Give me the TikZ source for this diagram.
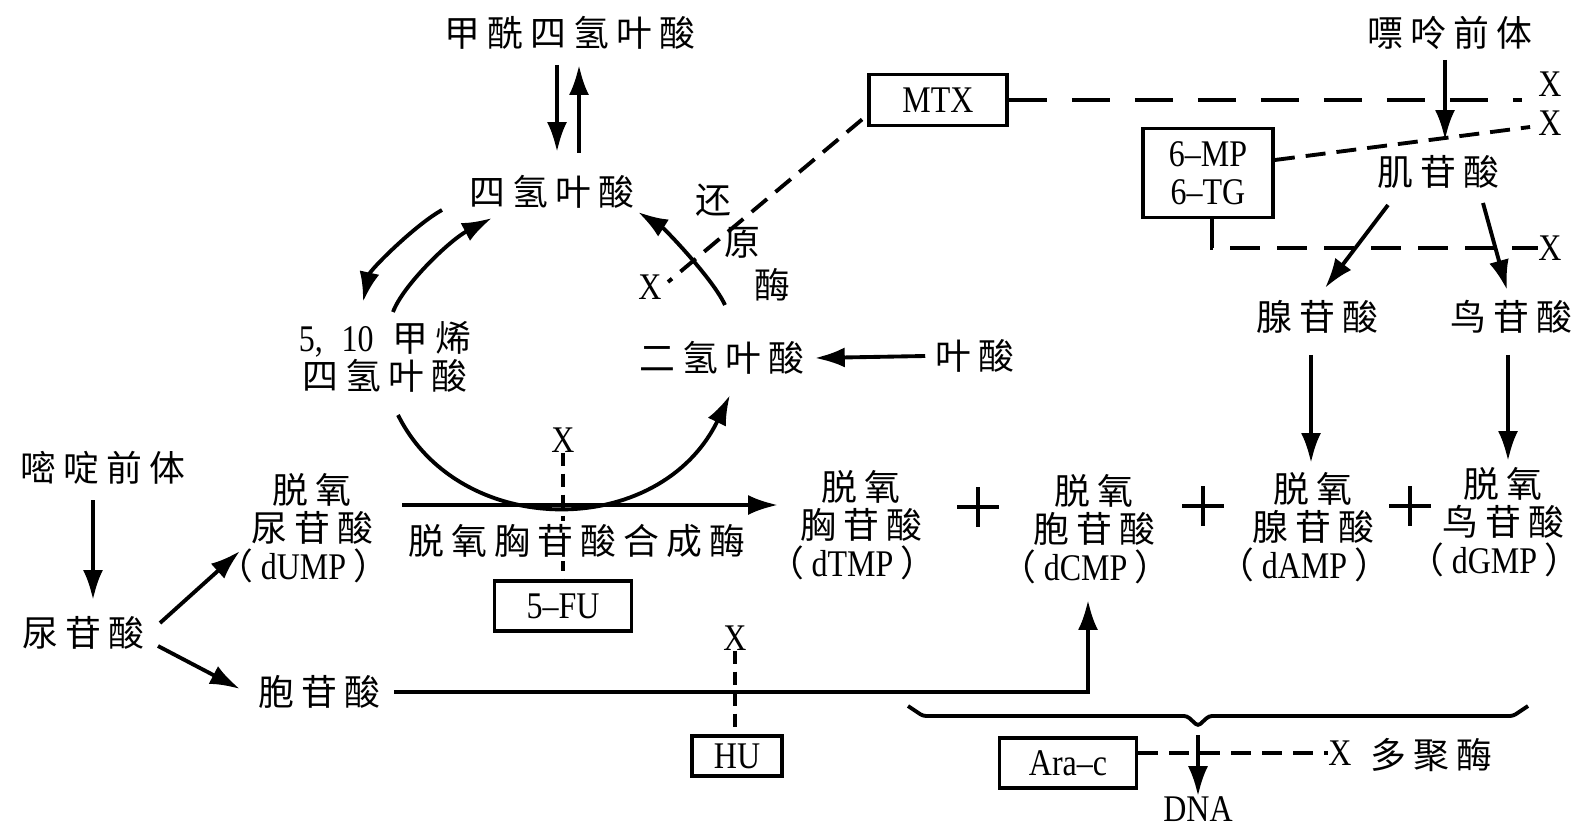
\documentclass[tikz,border=0pt]{standalone}
\usepackage{fontspec}
\setmainfont{Liberation Serif}[FakeStretch=0.85,Scale=1.05]
\newfontfamily\cjk{Noto Sans CJK SC}[LetterSpace=20]
\newfontfamily\cjkp{Noto Sans CJK SC}
\usetikzlibrary{arrows.meta,calc}
\newcommand{\zhs}[1]{{\cjk #1}}
\newcommand{\abbr}[1]{\hspace{-0.45em}{\cjkp （}\hspace{0.2em}#1\hspace{0.2em}{\cjkp ）}\hspace{-0.45em}}
\tikzset{
  every node/.style={font=\fontsize{20.4pt}{21.8pt}\selectfont, inner sep=0pt, align=center},
  flow/.style={line width=2.2pt},
  arr/.style={line width=2.2pt, -{Latex[length=0.6cm,width=0.4cm]}},
  drug/.style={draw, line width=2.2pt, minimum height=1cm},
  blocklong/.style={line width=2.2pt, dash pattern=on 0.76cm off 0.5cm},
  blockmid/.style={line width=2.2pt, dash pattern=on 0.6cm off 0.34cm},
  block/.style={line width=2.2pt, dash pattern=on 0.4cm off 0.22cm},
  blockshort/.style={line width=2.2pt, dash pattern=on 0.26cm off 0.16cm}
}

\begin{document}
\begin{tikzpicture}[x=0.02cm, y=-0.02cm]
\useasboundingbox[fill=white] (0,0) rectangle (1585,827);

% folate cycle
\node (fthf) at (570,33) {\zhs{甲酰四氢叶酸}};
\node (thf) at (552,192) {\zhs{四氢叶酸}};
\node (mthf) at (385,357) {5,\enspace10\enspace\zhs{甲烯}\\\zhs{四氢叶酸}};
\node (dhf) at (722,358) {\zhs{二氢叶酸}};
\node (fa) at (975,356) {\zhs{叶酸}};
\foreach \ch/\x/\y [count=\i] in {还/713/200, 原/742/243, 酶/772/285}
  \node (red\i) at (\x,\y) {\zhs{\ch}};
\node (xdhfr) at (650,287) {X};
\node[drug, minimum width=2.76cm, minimum height=1.02cm] (mtx) at (938,100) {MTX};
\node (xmtx) at (1550,84) {X};
\coordinate (mtxend) at (1522,100);

\draw[arr] ($(fthf)+(-13,32)$) -- ($(thf)+(5,-40)$);
\draw[arr] ($(thf)+(27,-39)$) -- ($(fthf)+(9,32)$);
\draw[arr] ($(thf)+(-110,18)$) .. controls +(-27,15) and +(7,-32) .. ($(mthf)+(-22,-55)$);
\draw[arr] ($(mthf)+(8,-45)$) .. controls +(10,-27) and +(-42,22) .. ($(thf)+(-60,26)$);
\draw[arr] ($(dhf)+(3,-53)$) .. controls +(-12,-26) and +(27,17) .. ($(thf)+(86,20)$);
\draw[arr] ($(fa.west)+(-10,0)$) -- ($(dhf.east)+(10,0)$);
\draw[arr] ($(mthf)+(13,58)$) .. controls +(62,125) and +(-70,145) .. ($(dhf)+(8,37)$);
\draw[blocklong] (mtx.east) -- (mtxend);
\draw[block] ($(mtx.south west)+(-5,-8)$) -- ($(xdhfr)+(18,-5)$);

% purine branch
\node (purpre) at (1450,33) {\zhs{嘌呤前体}};
\node (imp) at (1438,172) {\zhs{肌苷酸}};
\node[drug, minimum width=2.6cm, minimum height=1.78cm] (mp) at (1208,173) {6--MP\\6--TG};
\node (xmp1) at (1550,123) {X};
\node (xmp2) at (1550,248) {X};
\node (amp) at (1317,317) {\zhs{腺苷酸}};
\node (gmp) at (1511,317) {\zhs{鸟苷酸}};

\draw[arr] ($(purpre)+(-5,27)$) -- ($(imp)+(7,-32)$);
\draw[block] ($(mp.east)+(0,-13)$) -- ($(xmp1.west)+(-8,4)$);
\draw[blockmid] ($(mp.south)+(4,0)$) |- (xmp2.west);
\draw[arr] ($(imp)+(-50,33)$) -- ($(amp)+(8,-29)$);
\draw[arr] ($(imp)+(45,31)$) -- ($(gmp)+(-4,-27)$);

% pyrimidine branch
\node (pyrpre) at (103,468) {\zhs{嘧啶前体}};
\node (ump) at (83,633) {\zhs{尿苷酸}};
\node (dump) at (312,528) {\zhs{脱氧}\\\zhs{尿苷酸}\\\abbr{dUMP}};
\node (cmp) at (319,692) {\zhs{胞苷酸}};
\node (xts) at (563,440) {X};
\node[drug, minimum width=2.74cm] (fu) at (563,606) {5--FU};
\node (xhu) at (735,638) {X};
\node[drug, minimum width=1.8cm, minimum height=0.8cm] (hu) at (737,756) {HU};

\draw[arr] ($(pyrpre)+(-10,32)$) -- ($(ump)+(10,-33)$);
\draw[arr] ($(ump)+(77,-10)$) -- ($(dump)+(-72,23)$);
\draw[arr] ($(ump)+(75,13)$) -- ($(cmp)+(-79,-3)$);
\draw[blockshort] (xts.south) -- (fu.north);
\node[fill=white, inner ysep=2pt] (ts) at (577,541) {\zhs{脱氧胸苷酸合成酶}};

% deoxynucleotides
\node (dtmp) at (861,525) {\zhs{脱氧}\\\zhs{胸苷酸}\\\abbr{dTMP}};
\node (dcmp) at (1094,529) {\zhs{脱氧}\\\zhs{胞苷酸}\\\abbr{dCMP}};
\node (damp) at (1313,527) {\zhs{脱氧}\\\zhs{腺苷酸}\\\abbr{dAMP}};
\node (dgmp) at (1503,522) {\zhs{脱氧}\\\zhs{鸟苷酸}\\\abbr{dGMP}};
\foreach \px/\py in {978/507, 1203/506, 1410/506}
  \draw[flow] (\px-21,\py) -- (\px+21,\py) (\px,\py-20) -- (\px,\py+20);

\draw[arr] ($(dump)+(90,-23)$) -- ($(dtmp)+(-83,-20)$);
\draw[arr] ($(cmp.east)+(14,0)$) -| ($(dcmp)+(-6,71)$);
\draw[blockshort] (xhu.south) -- (xhu.south |- hu.north);
\draw[arr] ($(amp)+(-6,38)$) -- ($(damp)+(-2,-64)$);
\draw[arr] ($(gmp)+(-3,38)$) -- ($(dgmp)+(5,-61)$);

% polymerase
\draw[flow, rounded corners=0.06cm] (908,706) -- (923,716) -- (1187,716) -- (1198,726) coordinate (bracetip) -- (1209,716) -- (1513,716) -- (1528,706);
\node[drug, minimum width=2.74cm] (arac) at (1068,763) {Ara--c};
\node (xpol) at (1340,753) {X};
\node (pol) at (1431,755) {\zhs{多聚酶}};
\node (dna) at (1198,809) {DNA};
\draw[block] ($(arac.east)+(0,-10)$) -- (xpol.west);
\draw[arr] ($(bracetip)+(0,9)$) -- (dna.north);
\end{tikzpicture}
\end{document}
